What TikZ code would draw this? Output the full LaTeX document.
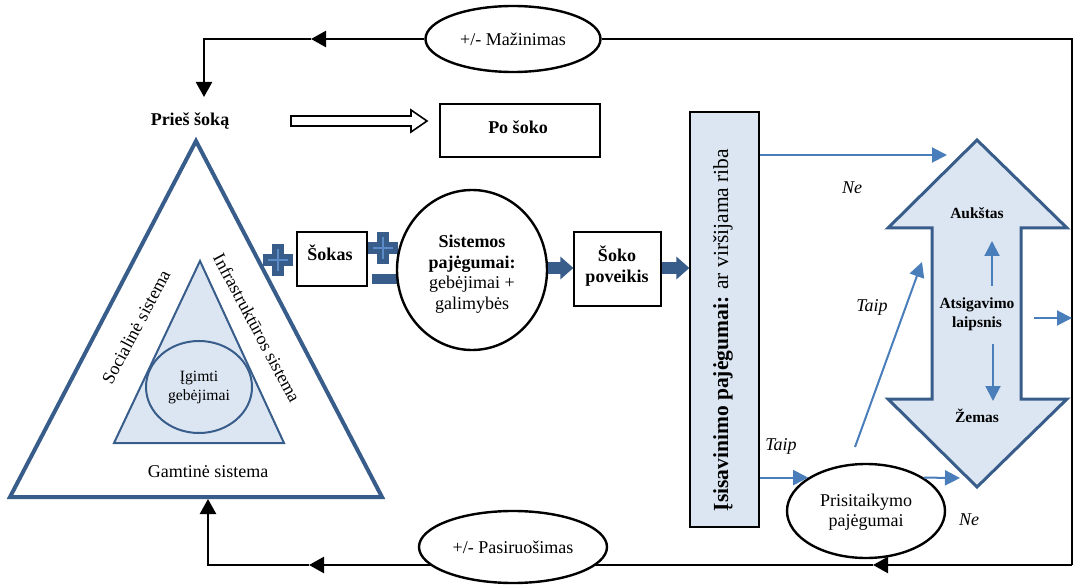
\documentclass[tikz,border=0pt]{standalone}
\usepackage{fontspec}
\setmainfont{Liberation Serif}
\usetikzlibrary{arrows.meta,shapes.geometric,calc}
\pgfdeclarelayer{background}
\pgfsetlayers{background,main}

\definecolor{dkblue}{HTML}{385D8A}
\definecolor{ltfill}{HTML}{DCE6F2}
\definecolor{arrblue}{HTML}{4A7EBB}
\definecolor{plusin}{HTML}{5B8BC6}

\tikzset{
  txt/.style={font=\fontsize{18}{20.5}\selectfont, align=center, inner sep=0pt},
  btxt/.style={font=\fontsize{18}{20.5}\selectfont\bfseries, align=center, inner sep=0pt},
  itxt/.style={font=\fontsize{18}{20.5}\selectfont\itshape, inner sep=0pt},
  smbold/.style={font=\fontsize{15.5}{19}\selectfont\bfseries, align=center, inner sep=0pt},
  boxed/.style={draw=black, line width=1.2pt, fill=white, inner sep=0pt},
  oval/.style={ellipse, draw=black, line width=2.4pt, fill=white, inner sep=0pt},
  loopline/.style={line width=2.4pt, black},
  looparr/.style={loopline, -{Triangle[length=15pt,width=16pt]}},
  bluearr/.style={draw=arrblue, line width=2pt, -{Triangle[length=15pt,width=15pt]}},
  blockarr/.style={draw=dkblue, line width=12pt, -{Triangle[length=13pt,width=22pt]}},
  plussign/.pic={
    \fill[dkblue] (-15,-6) rectangle (15,6);
    \fill[dkblue] (-6,-16) rectangle (6,16);
    \draw[plusin, line width=2.2pt] (-10,0) -- (10,0) (0,-11) -- (0,11);
  }
}

\begin{document}
\begin{tikzpicture}[x=1pt,y=-1pt]
\useasboundingbox (0,0) rectangle (1079,585);

% ---- system triangle ----
\draw[dkblue, line width=4pt, line join=miter] (196,141) -- (382,497) -- (10,497) -- cycle;
\draw[dkblue, fill=ltfill, line width=2pt] (200,261) -- (284,443) -- (114,443) -- cycle;
\node[ellipse, draw=dkblue, fill=ltfill, line width=2pt, minimum width=106, minimum height=92,
      font=\fontsize{15.7}{19}\selectfont, align=center, inner sep=0pt] (igimti) at (199,387)
      {Įgimti\\gebėjimai};
\node[txt, rotate=62] (social) at (136,327) {Socialinė sistema};
\node[txt, rotate=-62] (infra) at (257,328) {Infrastruktūros sistema};
\node[txt] (gamt) at (208,472) {Gamtinė sistema};
\coordinate (triBase) at (208,499);

% ---- before / after the shock ----
\node[btxt] (pries) at (190,121) {Prieš šoką};
\node[boxed, minimum width=160, minimum height=53] (po) at (520,130.5) {};
\node[btxt] (poT) at (518,127) {Po šoko};
\draw[line width=1.6pt, fill=white, line join=miter]
  (291,116) -- (411,116) -- (411,110) -- (427,121) -- (411,132) -- (411,126) -- (291,126) -- cycle;

% ---- shock chain ----
\node[boxed, minimum width=70, minimum height=54] (sokas) at (332,259) {};
\node[btxt] (sokasT) at (330,253) {Šokas};
\pic at (278,260) {plussign};
\pic at (383,248) {plussign};
\fill[dkblue] (372,274) rectangle (397,284);

\node[oval, minimum width=150, minimum height=160] (sys) at (472,270) {};
\node[txt] (sysT) at (472,274)
  {\textbf{Sistemos}\\\textbf{pajėgumai:}\\gebėjimai +\\galimybės};

\node[boxed, minimum width=87, minimum height=74] (soko) at (617.5,269) {};
\node[btxt] (sokoT) at (617,266) {Šoko\\poveikis};

\node[draw=black, fill=ltfill, line width=1.2pt, minimum width=69, minimum height=415, inner sep=0pt]
  (isis) at (724.5,319.5) {};
\node[rotate=90, inner sep=0pt, font=\fontsize{21.5}{24}\selectfont] (isisT) at (723,330)
  {\textbf{Įsisavinimo pajėgumai:} ar viršijama riba};

\draw[blockarr] (sys.east |- 0,268) -- (soko.west |- 0,268);
\draw[blockarr] (soko.east |- 0,268) -- (isis.west |- 0,268);

% ---- recovery level ----
\draw[dkblue, fill=ltfill, line width=3pt, line join=miter]
  (977,140) -- (1067,228) -- (1021,228) -- (1021,399) -- (1067,399) -- (977,487)
  -- (888,399) -- (932,399) -- (932,228) -- (888,228) -- cycle;
\node[smbold] (auk) at (977,213) {Aukštas};
\node[smbold] (atsig) at (977,314) {Atsigavimo\\laipsnis};
\node[smbold] (zem) at (977,416) {Žemas};
\coordinate (upS) at (992,286);
\coordinate (upE) at (992,241);
\coordinate (dnS) at (993,344);
\coordinate (dnE) at (993,401);
\draw[bluearr] (upS) -- (upE);
\draw[bluearr] (dnS) -- (dnE);

\node[oval, minimum width=158, minimum height=94] (pris) at (866,511) {};
\node[txt] (prisT) at (866,512) {Prisitaikymo\\pajėgumai};

% ---- feedback loops ----
\node[oval, minimum width=175, minimum height=66, font=\fontsize{18}{20}\selectfont] (maz) at (513,39) {+/- Mažinimas};
\node[oval, minimum width=188, minimum height=72, font=\fontsize{18}{20}\selectfont] (pas) at (513,547) {+/- Pasiruošimas};

\coordinate (tr) at (1072,39);
\coordinate (tl) at (204,39);
\coordinate (topMid) at (311,39);
\coordinate (priesIn) at (204,97);
\coordinate (br) at (1072,565);
\coordinate (botR) at (873,565);
\coordinate (botL) at (309,565);
\coordinate (bl) at (208,565);

\begin{pgfonlayer}{background}
  \draw[loopline] (maz.east) -- (tr) -- (br);
  \draw[looparr] (maz.west) -- (topMid);
  \draw[looparr] (topMid) -- (tl) -- (priesIn);
  \draw[looparr] (br) -- (botR);
  \draw[looparr] (botR) -- (botL);
  \draw[looparr] (botL) -- (bl) -- (triBase);
\end{pgfonlayer}

% ---- decision arrows ----
\coordinate (neTop) at (947,155);
\draw[bluearr] (isis.east |- neTop) -- (neTop);
\node[itxt] (ne1) at (852,188) {Ne};

\draw[bluearr] (isis.east |- pris.150) -- (pris.150);
\node[itxt] (taip2) at (781,446) {Taip};

\coordinate (taipS) at (855,447);
\coordinate (taipE) at (922,262);
\draw[bluearr] (taipS) -- (taipE);
\node[itxt] (taip1) at (872,307) {Taip};

\coordinate (neLow) at (960,478);
\draw[bluearr] (pris.30) -- (neLow);
\node[itxt] (ne2) at (969,520) {Ne};

\coordinate (outS) at (1034,318);
\draw[bluearr] (outS) -- (tr |- outS);

\end{tikzpicture}
\end{document}
